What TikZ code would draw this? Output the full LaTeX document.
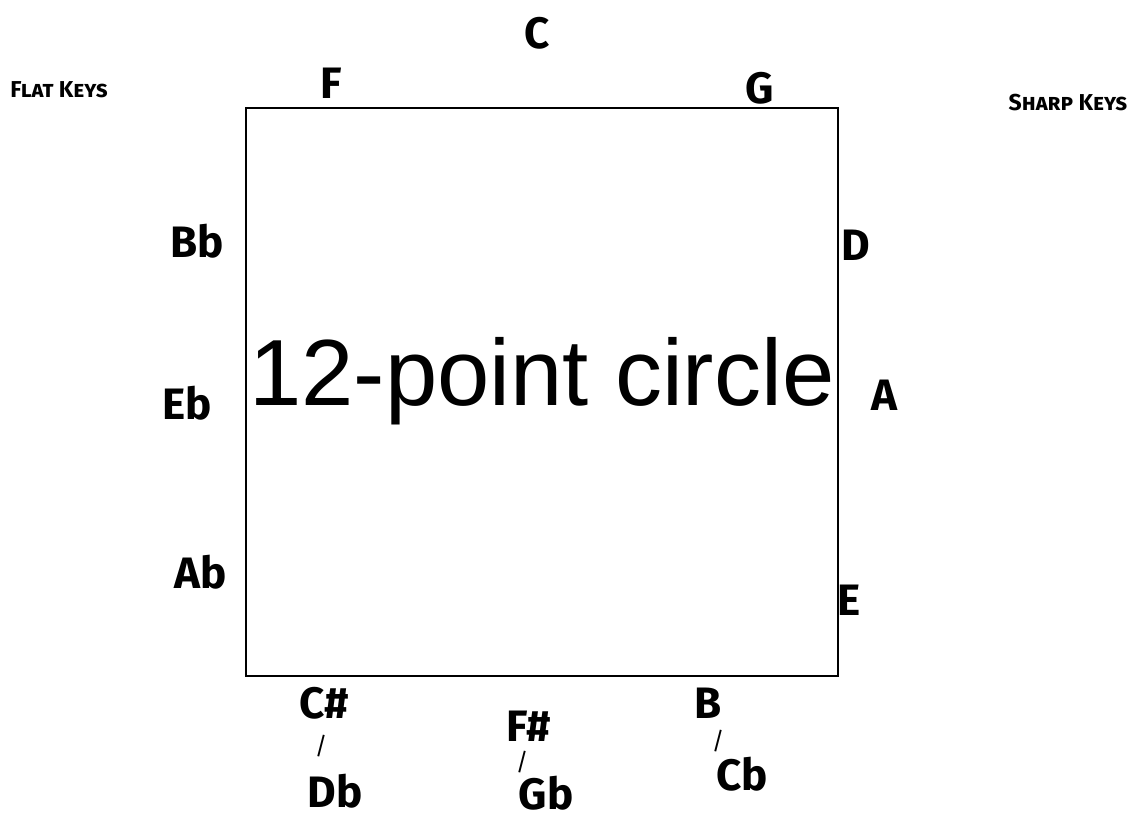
\documentclass[tikz,border=0pt]{standalone}
\usepackage{fontspec}
\setmainfont{Fira Sans}
\newfontfamily\keyfont{Fira Sans}
\newfontfamily\boxfont{Liberation Sans}
\begin{document}
\begin{tikzpicture}[x=1pt, y=-1pt,
    key/.style={font=\keyfont\bfseries\fontsize{44}{44}\selectfont, inner sep=0pt},
    slash/.style={font=\keyfont\fontsize{24}{24}\selectfont, inner sep=0pt},
    side/.style={font=\keyfont\bfseries\fontsize{23}{23}\selectfont, inner sep=0pt}]
    \useasboundingbox (0,0) rectangle (1134,821);

    \draw[line width=2.4pt] (246,108) rectangle (838,676);
    \node[font=\boxfont\fontsize{94}{94}\selectfont, anchor=base, inner sep=0pt] (title) at (542,405) {12-point circle};

    \node[side] (flat) at (59,90) {\textsc{Flat Keys}};
    \node[side] (sharp) at (1068,103) {\textsc{Sharp Keys}};

    % sharp side
    \node[key] (c) at (537,33) {C};
    \node[key] (g) at (760,88) {G};
    \node[key] (d) at (856,245) {D};
    \node[key] (a) at (884,395) {A};
    \node[key] (e) at (849,600) {E};
    \node[key] (b) at (708,703) {B};
    \node[slash] (bsl) at (718,741) {/};
    \node[key] (cb) at (742,774) {Cb};

    % flat side
    \node[key] (f) at (331,83) {F};
    \node[key] (bb) at (197,241) {Bb};
    \node[key] (eb) at (187,403) {Eb};
    \node[key] (ab) at (201,572) {Ab};
    \node[key] (cs) at (324,703) {C\#};
    \node[slash] (csl) at (321,746) {/};
    \node[key] (db) at (335,791) {Db};

    \node[key] (fs) at (529,726) {F\#};
    \node[slash] (fsl) at (522,762) {/};
    \node[key] (gb) at (546,793) {Gb};
\end{tikzpicture}
\end{document}
